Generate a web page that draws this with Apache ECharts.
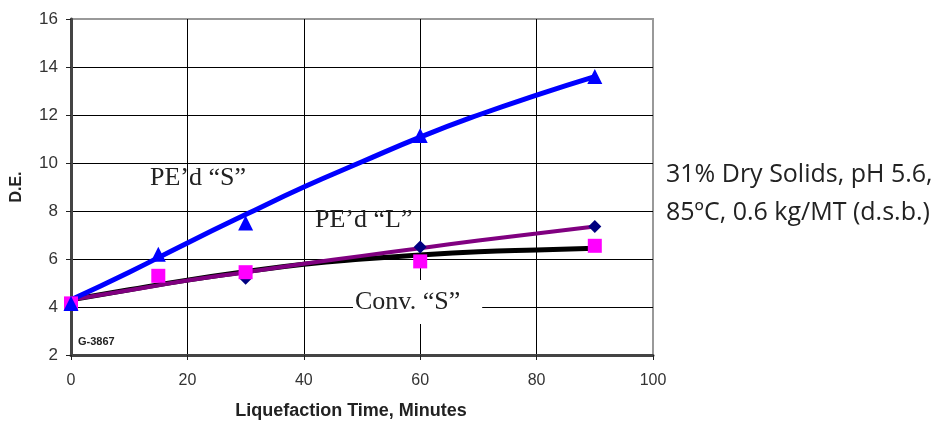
<!DOCTYPE html>
<html>
<head>
    <meta charset="utf-8">
    <title>D.E. vs Liquefaction Time</title>
    <style>
        * { margin: 0; padding: 0; }
        #main { width: 940px; height: 421px; background: #fff; }
    </style>
    <script src="https://cdn.jsdelivr.net/npm/echarts@6/dist/echarts.min.js"></script>
</head>
<body>
    <div id="main"></div>
    <script type="text/javascript">
        // measured points
        var timeMin = [0, 15, 30, 60, 90];
        var pedS = [4.15, 6.2, 7.5, 11.15, 13.6];
        var pedL = [4.15, 5.3, 5.2, 6.5, 7.35];
        var convS = [4.15, 5.3, 5.45, 5.9, 6.55];

        // fitted curves
        var fitTime = [0, 10, 20, 30, 40, 50, 60, 70, 80, 90];
        var fitPedS = [4.3, 5.45, 6.67, 7.85, 9.0, 10.05, 11.08, 12.0, 12.83, 13.6];
        var fitPedL = [4.3, 4.7, 5.1, 5.45, 5.8, 6.13, 6.45, 6.77, 7.06, 7.35];
        var fitConvS = [4.3, 4.72, 5.12, 5.47, 5.78, 6.0, 6.17, 6.3, 6.38, 6.45];

        function pairs(xs, ys) {
            return xs.map(function (x, i) { return [x, ys[i]]; });
        }

        var chart = echarts.init(document.getElementById('main'));

        var option = {
            animation: false,
            grid: {
                left: 71, right: 287, top: 19, bottom: 66,
                containLabel: false, outerBoundsMode: 'none',
                show: true, borderColor: '#999', borderWidth: 2
            },
            xAxis: {
                type: 'value', min: 0, max: 100, interval: 20,
                name: 'Liquefaction Time, Minutes',
                nameLocation: 'middle', nameGap: 47,
                nameTextStyle: {
                    fontFamily: 'Liberation Sans', fontWeight: 'bold', fontSize: 18, color: '#222',
                    padding: [0, 22, 0, 0]
                },
                axisLine: { lineStyle: { color: '#444', width: 3 } },
                axisTick: { show: true, length: 5, lineStyle: { color: '#222' } },
                axisLabel: { fontFamily: 'Liberation Sans', fontSize: 16, color: '#333', margin: 18 },
                splitLine: { lineStyle: { color: ['#000', '#000', '#000', '#000', '#000', '#999'], width: 1 } }
            },
            yAxis: {
                type: 'value', min: 2, max: 16, interval: 2,
                name: 'D.E.',
                nameLocation: 'middle', nameGap: 46, nameRotate: 90,
                nameTextStyle: { fontFamily: 'Liberation Sans', fontWeight: 'bold', fontSize: 16, color: '#222' },
                axisLine: { show: true, lineStyle: { color: '#444', width: 3 } },
                axisTick: { show: true, length: 5, lineStyle: { color: '#222' } },
                axisLabel: { fontFamily: 'Liberation Sans', fontSize: 17, color: '#333', margin: 13 },
                splitLine: { lineStyle: { color: ['#000', '#000', '#000', '#000', '#000', '#000', '#000', '#999'], width: 1 } }
            },
            series: [
                {
                    type: 'line', data: pairs(fitTime, fitConvS), smooth: true, showSymbol: false,
                    lineStyle: { color: '#000', width: 5 }, z: 2
                },
                {
                    type: 'line', data: pairs(fitTime, fitPedL), smooth: true, showSymbol: false,
                    lineStyle: { color: '#800080', width: 4 }, z: 3
                },
                {
                    type: 'line', data: pairs(fitTime, fitPedS), smooth: true, showSymbol: false,
                    lineStyle: { color: '#0000ff', width: 5 }, z: 3
                },
                {
                    type: 'scatter', data: pairs(timeMin, pedL), symbol: 'diamond', symbolSize: 13,
                    itemStyle: { color: '#000080', opacity: 1 }, z: 4
                },
                {
                    type: 'scatter', data: pairs(timeMin, convS), symbol: 'rect', symbolSize: 14,
                    itemStyle: { color: '#ff00ff', opacity: 1 }, z: 5
                },
                {
                    type: 'scatter', data: pairs(timeMin, pedS), symbol: 'triangle', symbolSize: 15,
                    itemStyle: { color: '#0000ff', opacity: 1 }, z: 6
                }
            ],
            graphic: [
                {
                    type: 'text', left: 150, top: 165, z: 10,
                    style: { text: 'PE’d “S”', font: '26px "Liberation Serif"', fill: '#222' }
                },
                {
                    type: 'text', left: 315, top: 207, z: 10,
                    style: { text: 'PE’d “L”', font: '26px "Liberation Serif"', fill: '#222' }
                },
                {
                    type: 'text', left: 353, top: 280, z: 10,
                    style: {
                        text: 'Conv. “S”', font: '26px "Liberation Serif"', fill: '#222',
                        backgroundColor: '#fff', padding: [9, 22, 9, 2]
                    }
                },
                {
                    type: 'text', left: 78, top: 336, z: 10,
                    style: { text: 'G-3867', font: 'bold 11px "Liberation Sans"', fill: '#222' }
                },
                {
                    type: 'text', left: 666, top: 156, z: 10,
                    style: {
                        text: '31% Dry Solids, pH 5.6,\n85ºC, 0.6 kg/MT (d.s.b.)',
                        font: '25px "Open Sans"', fill: '#222', lineHeight: 38
                    }
                }
            ]
        };

        chart.setOption(option);
    </script>
</body>
</html>
